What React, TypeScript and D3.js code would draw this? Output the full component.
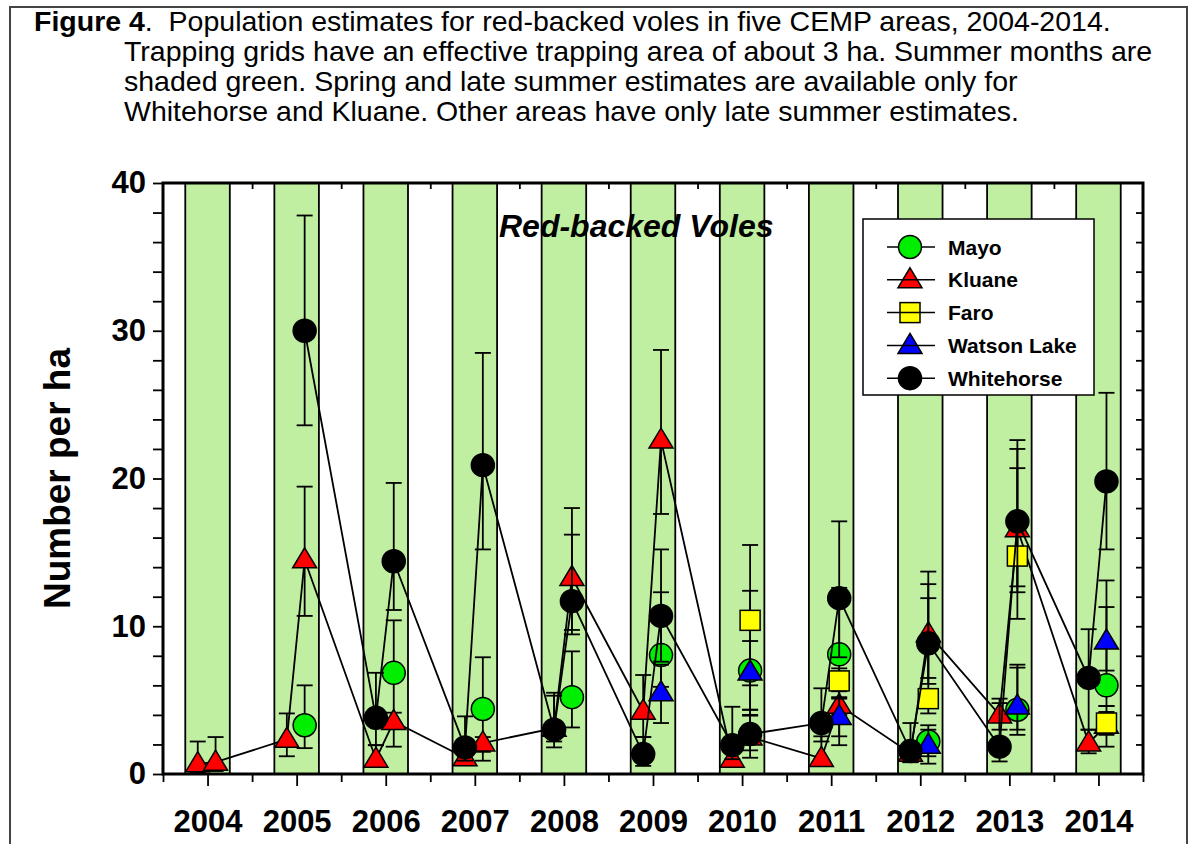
import { useRef, useEffect } from "react";
import * as d3 from "d3";

// years on the x axis; spring and late-summer sessions sit inside each year
const years = [2004, 2005, 2006, 2007, 2008, 2009, 2010, 2011, 2012, 2013, 2014];
const springAt = 0.39;
const lateAt = 0.59;
const yTicks = [0, 10, 20, 30, 40];

// Whitehorse (spring + late summer)
const whSpring = [null, null, 3.8, 1.8, 3.0, 1.35, 1.95, 3.45, 1.55, 1.85, 6.5];
const whSpringHi = [null, null, 6.85, 3.9, 5.5, 2.5, 4.55, 5.8, 3.45, 5.1, 9.8];
const whSpringLo = [null, null, 1.95, 0.9, 2.2, 0.55, 1.0, 2.2, 0.8, 0.85, 3.0];
const whLate = [null, 30.0, 14.4, 20.9, 11.7, 10.7, 2.7, 11.9, 8.85, 17.1, 19.8];
const whLateHi = [null, 37.8, 19.7, 28.5, 16.2, 15.2, 4.0, 17.1, 13.7, 22.6, 25.8];
const whLateLo = [null, 23.6, 11.1, 15.2, 9.45, 7.6, 1.6, 7.9, 6.1, 12.3, 15.2];

// Kluane (spring + late summer)
const klSpring = [0.7, 2.35, 1.0, 1.1, 3.1, 4.25, 1.0, 1.05, 1.4, 4.0, 2.1];
const klSpringHi = [2.2, 4.1, 1.95, 2.0, 5.3, 6.7, 2.0, 2.55, 2.0, 4.8, 3.0];
const klSpringLo = [0.1, 1.2, 0.5, 0.6, 1.8, 2.5, 0.6, 0.7, 0.8, 3.0, 1.4];
const klLate = [0.8, 14.5, 3.55, 2.1, 13.3, 22.6, 2.5, 4.65, 9.5, 16.6, 3.3];
const klLateHi = [2.5, 19.45, 4.15, 2.5, 18.0, 28.7, 4.35, 5.6, 12.85, 22.0, 4.2];
const klLateLo = [0.2, 10.7, 1.85, 1.5, 9.75, 17.6, 1.1, 2.55, 6.5, 10.5, 1.85];

// late-summer only areas
const mayo = [null, 3.3, 6.85, 4.4, 5.2, 8.05, 7.0, 8.1, 2.2, 4.35, 6.0];
const mayoHi = [null, 6.0, 10.4, 7.9, 8.3, 12.3, 12.4, 12.6, 3.3, 7.2, 11.3];
const mayoLo = [null, 1.75, 3.3, 0.9, 3.15, 5.9, 4.35, 4.0, 1.2, 2.65, 4.6];
const faro = [null, null, null, null, null, null, 10.4, 6.3, 5.1, 14.75, 3.45];
const faroHi = [null, null, null, null, null, null, 15.5, 7.15, 11.9, 20.7, 4.6];
const faroLo = [null, null, null, null, null, null, 6.0, 5.2, 4.1, 12.7, 2.65];
const watson = [null, null, null, null, null, 5.5, 6.9, 3.9, 1.95, 4.6, 9.0];
const watsonHi = [null, null, null, null, null, 7.4, 9.0, 5.1, 3.0, 7.4, 13.1];
const watsonLo = [null, null, null, null, null, 3.45, 3.95, 1.95, 0.7, 3.0, 7.0];

type Pt = { x: number; v: number; hi: number; lo: number };

function toPts(v: (number | null)[], hi: (number | null)[], lo: (number | null)[], off: number): Pt[] {
  const out: Pt[] = [];
  years.forEach((yr, i) => {
    if (v[i] == null) return;
    out.push({ x: yr + off, v: v[i] as number, hi: hi[i] as number, lo: lo[i] as number });
  });
  return out;
}

const byX = (a: Pt, b: Pt) => a.x - b.x;

const series = [
  { name: "Mayo", fill: "#00ee00", shape: "circle", line: false, pts: toPts(mayo, mayoHi, mayoLo, lateAt) },
  {
    name: "Kluane", fill: "#ff0000", shape: "triangle", line: true,
    pts: toPts(klSpring, klSpringHi, klSpringLo, springAt).concat(toPts(klLate, klLateHi, klLateLo, lateAt)).sort(byX),
  },
  { name: "Faro", fill: "#ffff00", shape: "square", line: false, pts: toPts(faro, faroHi, faroLo, lateAt) },
  { name: "Watson Lake", fill: "#0000ff", shape: "triangle", line: false, pts: toPts(watson, watsonHi, watsonLo, lateAt) },
  {
    name: "Whitehorse", fill: "#000000", shape: "circle", line: true,
    pts: toPts(whSpring, whSpringHi, whSpringLo, springAt).concat(toPts(whLate, whLateHi, whLateLo, lateAt)).sort(byX),
  },
];

const FONT = "'Liberation Sans', Arial, Helvetica, sans-serif";

function drawSymbol(g: any, shape: string, cx: number, cy: number, fill: string) {
  if (shape === "circle") {
    g.append("circle").attr("cx", cx).attr("cy", cy).attr("r", 11.5)
      .attr("fill", fill).attr("stroke", "#000").attr("stroke-width", 1.5);
  } else if (shape === "triangle") {
    g.append("path")
      .attr("d", `M${cx},${cy - 12}L${cx + 12},${cy + 8}L${cx - 12},${cy + 8}Z`)
      .attr("fill", fill).attr("stroke", "#000").attr("stroke-width", 1.5);
  } else {
    g.append("rect").attr("x", cx - 10).attr("y", cy - 10).attr("width", 20).attr("height", 20)
      .attr("fill", fill).attr("stroke", "#000").attr("stroke-width", 1.5);
  }
}

export default function App() {
  const svgRef = useRef<SVGSVGElement>(null);

  useEffect(() => {
    const svg = d3.select(svgRef.current);
    svg.selectAll("*").remove();

    const left = 163, right = 1143, top = 183, bottom = 774;
    const x = d3.scaleLinear().domain([2004, 2015]).range([left, right]);
    const y = d3.scaleLinear().domain([0, 40]).range([bottom, top]);

    // outer frame round the whole figure
    svg.append("rect").attr("x", 10).attr("y", 7).attr("width", 1177).attr("height", 900)
      .attr("fill", "none").attr("stroke", "#444").attr("stroke-width", 2);

    // caption
    const cap = svg.append("g").attr("font-family", FONT).attr("font-size", 28.5).attr("fill", "#000");
    const l1 = cap.append("text").attr("x", 34).attr("y", 31);
    l1.append("tspan").attr("font-weight", "bold").text("Figure 4");
    l1.append("tspan").text(".\u00a0 Population estimates for red-backed voles in five CEMP areas, 2004-2014.");
    const rest = [
      "Trapping grids have an effective trapping area of about 3 ha. Summer months are",
      "shaded green. Spring and late summer estimates are available only for",
      "Whitehorse and Kluane. Other areas have only late summer estimates.",
    ];
    rest.forEach((t, i) => cap.append("text").attr("x", 124).attr("y", 61 + i * 30).text(t));

    // summer shading
    const bands = svg.append("g");
    years.forEach((yr) => {
      const x0 = x(yr + 0.25), x1 = x(yr + 0.75);
      bands.append("rect").attr("x", x0).attr("y", top).attr("width", x1 - x0).attr("height", bottom - top)
        .attr("fill", "#c1efa2");
      [x0, x1].forEach((xx) =>
        bands.append("line").attr("x1", xx).attr("x2", xx).attr("y1", top).attr("y2", bottom)
          .attr("stroke", "#000").attr("stroke-width", 1.8));
    });

    // axes
    const styleAxis = (g: any) => {
      g.select(".domain").remove();
      g.selectAll(".tick line").attr("stroke", "#000").attr("stroke-width", 1.8);
      g.selectAll("text").attr("font-family", FONT).attr("font-weight", "bold").attr("font-size", 31).attr("fill", "#000");
    };
    svg.append("g").attr("transform", `translate(${left},0)`)
      .call(d3.axisLeft(y).tickValues(d3.range(0, 41, 2)).tickSize(10).tickPadding(7)
        .tickFormat((d: any) => (yTicks.includes(d) ? String(d) : "")))
      .call(styleAxis);
    svg.append("g").attr("transform", `translate(${right},0)`)
      .call(d3.axisRight(y).tickValues(d3.range(2, 40, 2)).tickSize(-7).tickFormat(() => ""))
      .call(styleAxis);
    svg.append("g").attr("transform", `translate(0,${bottom})`)
      .call(d3.axisBottom(x).tickValues(years.map((yr) => yr + 0.5)).tickSize(12).tickPadding(24)
        .tickFormat((d: any) => String(Math.floor(d))))
      .call(styleAxis);
    svg.append("g").attr("transform", `translate(0,${bottom})`)
      .call(d3.axisBottom(x).tickValues(d3.range(2004, 2016)).tickSize(8).tickFormat(() => ""))
      .call(styleAxis);
    svg.append("g").attr("transform", `translate(0,${top})`)
      .call(d3.axisTop(x).tickValues(d3.range(2005, 2015)).tickSize(-6).tickFormat(() => ""))
      .call(styleAxis);

    svg.append("rect").attr("x", left).attr("y", top).attr("width", right - left).attr("height", bottom - top)
      .attr("fill", "none").attr("stroke", "#000").attr("stroke-width", 3);

    // axis title + panel title
    svg.append("text").attr("transform", `translate(70,${(top + bottom) / 2}) rotate(-90)`)
      .attr("text-anchor", "middle").attr("font-family", FONT).attr("font-weight", "bold")
      .attr("font-size", 37).text("Number per ha");
    svg.append("text").attr("x", 499).attr("y", 237).attr("font-family", FONT).attr("font-weight", "bold")
      .attr("font-style", "italic").attr("font-size", 32).text("Red-backed Voles");

    // data
    const lineGen = d3.line<Pt>().x((d) => x(d.x)).y((d) => y(d.v));
    series.forEach((s) => {
      const g = svg.append("g");
      if (s.line) {
        g.append("path").attr("d", lineGen(s.pts)).attr("fill", "none").attr("stroke", "#000").attr("stroke-width", 1.8);
      }
      s.pts.forEach((p) => {
        const cx = x(p.x);
        g.append("line").attr("x1", cx).attr("x2", cx).attr("y1", y(p.hi)).attr("y2", y(p.lo))
          .attr("stroke", "#000").attr("stroke-width", 1.8);
        [p.hi, p.lo].forEach((e) =>
          g.append("line").attr("x1", cx - 8).attr("x2", cx + 8).attr("y1", y(e)).attr("y2", y(e))
            .attr("stroke", "#000").attr("stroke-width", 1.8));
      });
      s.pts.forEach((p) => drawSymbol(g, s.shape, x(p.x), y(p.v), s.fill));
    });

    // legend
    const lg = svg.append("g");
    lg.append("rect").attr("x", 863).attr("y", 219).attr("width", 231).attr("height", 176)
      .attr("fill", "#fff").attr("stroke", "#000").attr("stroke-width", 1.5);
    series.forEach((s, i) => {
      const cy = 247 + i * 32.8;
      const seg = () => lg.append("line").attr("x1", 887).attr("x2", 935).attr("y1", cy).attr("y2", cy)
        .attr("stroke", "#000").attr("stroke-width", 1.5);
      if (s.shape === "circle") { seg(); drawSymbol(lg, s.shape, 910, cy, s.fill); }
      else { drawSymbol(lg, s.shape, 910, cy, s.fill); seg(); }
      lg.append("text").attr("x", 948).attr("y", cy).attr("dy", "0.36em").attr("font-family", FONT)
        .attr("font-weight", "bold").attr("font-size", 21).text(s.name);
    });
  }, []);

  return (
    <svg ref={svgRef} width={1196} height={844}
      style={{ position: "absolute", left: 0, top: 0, background: "#fff" }} />
  );
}
